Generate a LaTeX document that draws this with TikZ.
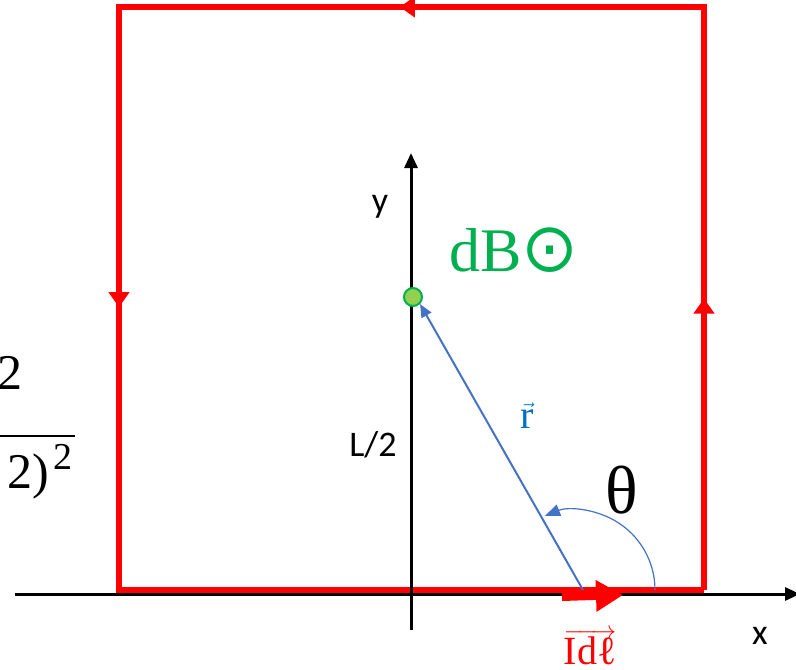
\documentclass[tikz,border=0pt]{standalone}
\usepackage{fontspec}
\setmainfont{Liberation Serif}
\newfontfamily\labfont{Carlito}
\newfontfamily\symfont{DejaVu Sans}
\usetikzlibrary{arrows.meta,decorations.markings}
\definecolor{loopred}{HTML}{FF0000}
\definecolor{dbgreen}{HTML}{00B050}
\definecolor{dotgreen}{HTML}{92D050}
\definecolor{vecblue}{HTML}{4472C4}
\definecolor{rblue}{HTML}{0070C0}
\tikzset{
  loopedge/.style={draw=loopred, line width=6pt,
    postaction={decorate},
    decoration={markings, mark=at position #1 with {\arrow{Triangle[length=15pt,width=20pt]}}}},
  axisline/.style={draw=black, line width=3pt, -{Triangle[length=15pt,width=13pt]}},
  lab/.style={font=\labfont\fontsize{36}{40}\selectfont, inner sep=0pt},
}
\begin{document}
\begin{tikzpicture}[x=1pt,y=-1pt]
\useasboundingbox (0,0) rectangle (796,670);
% square loop
\coordinate (BL) at (119,590);
\coordinate (BR) at (704,590);
\coordinate (TR) at (704,7);
\coordinate (TL) at (119,7);
\draw[loopedge=0.5] (BR) -- (TR);
\draw[loopedge=0.52] (TR) -- (TL);
\draw[loopedge=0.515] (TL) -- (BL);
\draw[draw=loopred, line width=6pt] (BL) -- (BR);
\fill[loopred] (BR) ++(0,-3) rectangle ++(-3,6);
\fill[loopred] (TR) ++(3,-3) rectangle ++(-6,6);
\fill[loopred] (TL) ++(-3,-3) rectangle ++(6,6);
\fill[loopred] (BL) ++(-3,-3) rectangle ++(6,6);
% axes
\coordinate (xs) at (15,594);
\coordinate (xe) at (800,594);
\coordinate (ys) at (411,630);
\coordinate (ye) at (411,153);
\draw[axisline] (xs) -- (xe);
\draw[axisline] (ys) -- (ye);
\node[lab] (ylab) at (380,207) {y};
\node[lab] (xlab) at (760,636) {x};
\node[lab] (half) at (373,445) {L/2};
% current element arrow
\coordinate (ids) at (562,597);
\coordinate (ide) at (623,595);
\draw[draw=loopred, line width=8pt, -{Triangle[length=27pt,width=30pt]}] (ids) -- (ide);
\node[text=loopred, inner sep=0pt] (idl) at (590,647)
  {\fontsize{40}{44}\selectfont$\overrightarrow{\hbox{Idℓ}}$};
% field point
\node[circle, draw=dbgreen, fill=dotgreen, line width=2pt, minimum size=18pt, inner sep=0pt] (P) at (413,297) {};
\node[text=dbgreen, inner sep=0pt] (dB) at (514,250)
  {\fontsize{62}{66}\selectfont dB{\symfont\fontsize{68}{70}\selectfont ⊙}};
% r vector
\coordinate (base) at (583,590);
\draw[vecblue, line width=2pt, -{Triangle[length=13pt,width=11pt]}] (base) -- (P.south east);
\node[text=rblue, inner sep=0pt] (rlab) at (527,416)
  {\fontsize{40}{44}\selectfont$\vec{\mathrm{r}}$};
% angle
\coordinate (arcs) at (655,590);
\draw[vecblue, line width=1.2pt, -{Triangle[length=15pt,width=12pt]}] (arcs) arc[start angle=0, end angle=-112, radius=80];
\node[inner sep=0pt] (theta) at (622,490) {\fontsize{68}{70}\selectfont θ};
% left fragment
\node[inner sep=0pt, anchor=base east] (frtop) at (23,389) {\fontsize{50}{52}\selectfont 2};
\coordinate (fl) at (-2,436);
\coordinate (fr) at (75,436);
\draw[line width=2.5pt] (fl) -- (fr);
\node[inner sep=0pt, anchor=base east] (frbot) at (73,488) {\fontsize{50}{52}\selectfont 2)\hspace{5pt}\raisebox{19pt}{\fontsize{38}{40}\selectfont 2}};
\end{tikzpicture}
\end{document}
